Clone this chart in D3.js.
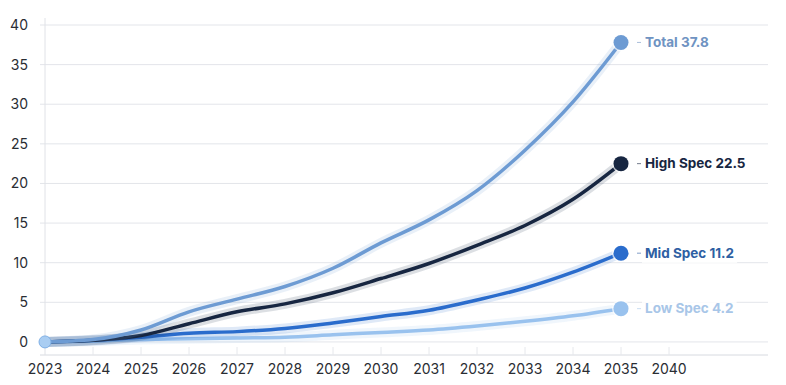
<!DOCTYPE html>
<html>
<head>
<meta charset="utf-8">
<script src="https://cdn.jsdelivr.net/npm/d3@7"></script>
<style>
  body { margin: 0; background: #fff; }
  svg { display: block; font-family: Inter, "Noto Sans", sans-serif; }
</style>
</head>
<body>
<svg id="chart" width="786" height="385"></svg>
<script>
// x categories (2040 is only a tick, no data)
const years = ["2023","2024","2025","2026","2027","2028","2029","2030","2031","2032","2033","2034","2035","2040"];
const yTicks = [0, 5, 10, 15, 20, 25, 30, 35, 40];

// series values, 2023..2035
const total    = [0, 0.3, 1.5, 3.8, 5.4, 7.0, 9.3, 12.5, 15.4, 19.1, 24.2, 30.3, 37.8];
const highSpec = [0, 0.2, 0.8, 2.3, 3.8, 4.8, 6.2, 8.0, 9.9, 12.2, 14.7, 18.0, 22.5];
const midSpec  = [0, 0.2, 0.6, 1.1, 1.3, 1.7, 2.4, 3.2, 4.0, 5.3, 6.8, 8.8, 11.2];
const lowSpec  = [0, 0.1, 0.3, 0.4, 0.5, 0.6, 0.9, 1.2, 1.5, 2.0, 2.6, 3.3, 4.2];

const seriesNames  = ["Total", "High Spec", "Mid Spec", "Low Spec"];
const seriesValues = [total, highSpec, midSpec, lowSpec];
const lineColors   = ["#6d9bd3", "#172641", "#2a6ccc", "#99c2ee"];
const textColors   = ["#6f93c2", "#172641", "#2e5fa3", "#a8c6e8"];

const svg = d3.select("#chart");

const x = d3.scalePoint().domain(years).range([45, 669]);
const y = d3.scaleLinear().domain([-1.65, 40]).range([355, 25]);

// horizontal grid
svg.append("g")
  .selectAll("line")
  .data(yTicks)
  .enter().append("line")
  .attr("x1", 40).attr("x2", 768)
  .attr("y1", d => y(d)).attr("y2", d => y(d))
  .attr("stroke", "#e3e5ea").attr("stroke-width", 1);

// bottom axis line
svg.append("line")
  .attr("x1", 40).attr("x2", 768)
  .attr("y1", y(-1.65)).attr("y2", y(-1.65))
  .attr("stroke", "#d7dae0");

// vertical axis line
svg.append("line")
  .attr("x1", x("2023")).attr("x2", x("2023"))
  .attr("y1", 18).attr("y2", y(-1.65))
  .attr("stroke", "#e0e2e7");

// small x ticks
svg.append("g")
  .selectAll("line")
  .data(years.slice(1))
  .enter().append("line")
  .attr("x1", d => x(d)).attr("x2", d => x(d))
  .attr("y1", y(-1.65) - 8).attr("y2", y(-1.65))
  .attr("stroke", "#e6e8ec");

// y labels
svg.append("g")
  .selectAll("text")
  .data(yTicks)
  .enter().append("text")
  .attr("x", 28).attr("y", d => y(d))
  .attr("dy", "0.35em")
  .attr("text-anchor", "end")
  .attr("font-size", 14)
  .attr("fill", "#2a2d33")
  .text(d => d);

// x labels
svg.append("g")
  .selectAll("text")
  .data(years)
  .enter().append("text")
  .attr("x", d => x(d)).attr("y", 369)
  .attr("dy", "0.35em")
  .attr("text-anchor", "middle")
  .attr("font-size", 14)
  .attr("fill", "#2a2d33")
  .text(d => d);

const line = d3.line()
  .x((d, i) => x(years[i]))
  .y(d => y(d))
  .curve(d3.curveMonotoneX);

// draw from back (low) to front (total)
[3, 2, 1, 0].forEach(k => {
  svg.append("path")
    .attr("d", line(seriesValues[k]))
    .attr("fill", "none")
    .attr("stroke", lineColors[k])
    .attr("stroke-opacity", 0.15)
    .attr("stroke-width", 10)
    .attr("stroke-linecap", "round");
  svg.append("path")
    .attr("d", line(seriesValues[k]))
    .attr("fill", "none")
    .attr("stroke", lineColors[k])
    .attr("stroke-width", 3.5)
    .attr("stroke-linecap", "round")
    .attr("stroke-linejoin", "round");
});

// start dot
svg.append("circle")
  .attr("cx", x("2023")).attr("cy", y(0)).attr("r", 6)
  .attr("fill", "#a9cdf2").attr("stroke", "#7fb0e6").attr("stroke-width", 1);

// end dots and labels
seriesNames.forEach((name, k) => {
  const vals = seriesValues[k];
  const last = vals[vals.length - 1];
  const cx = x("2035"), cy = y(last);
  svg.append("circle")
    .attr("cx", cx).attr("cy", cy).attr("r", 9)
    .attr("fill", "#fff").attr("fill-opacity", 0.7);
  svg.append("circle")
    .attr("cx", cx).attr("cy", cy).attr("r", 7.5)
    .attr("fill", lineColors[k]);
  const t = svg.append("text")
    .attr("x", cx + 24).attr("y", cy)
    .attr("dy", "0.35em")
    .attr("font-size", 13.5)
    .attr("font-weight", 700)
    .attr("fill", textColors[k])
    .text(name + " " + last);
  const bb = t.node().getBBox();
  svg.insert("rect", () => t.node())
    .attr("x", bb.x - 3).attr("y", bb.y - 2)
    .attr("width", bb.width + 6).attr("height", bb.height + 4)
    .attr("fill", "#fff").attr("fill-opacity", 0.85);
  svg.append("line")
    .attr("x1", cx + 16).attr("x2", cx + 20)
    .attr("y1", cy).attr("y2", cy)
    .attr("stroke", textColors[k]).attr("stroke-opacity", 0.6);
});
</script>
</body>
</html>
